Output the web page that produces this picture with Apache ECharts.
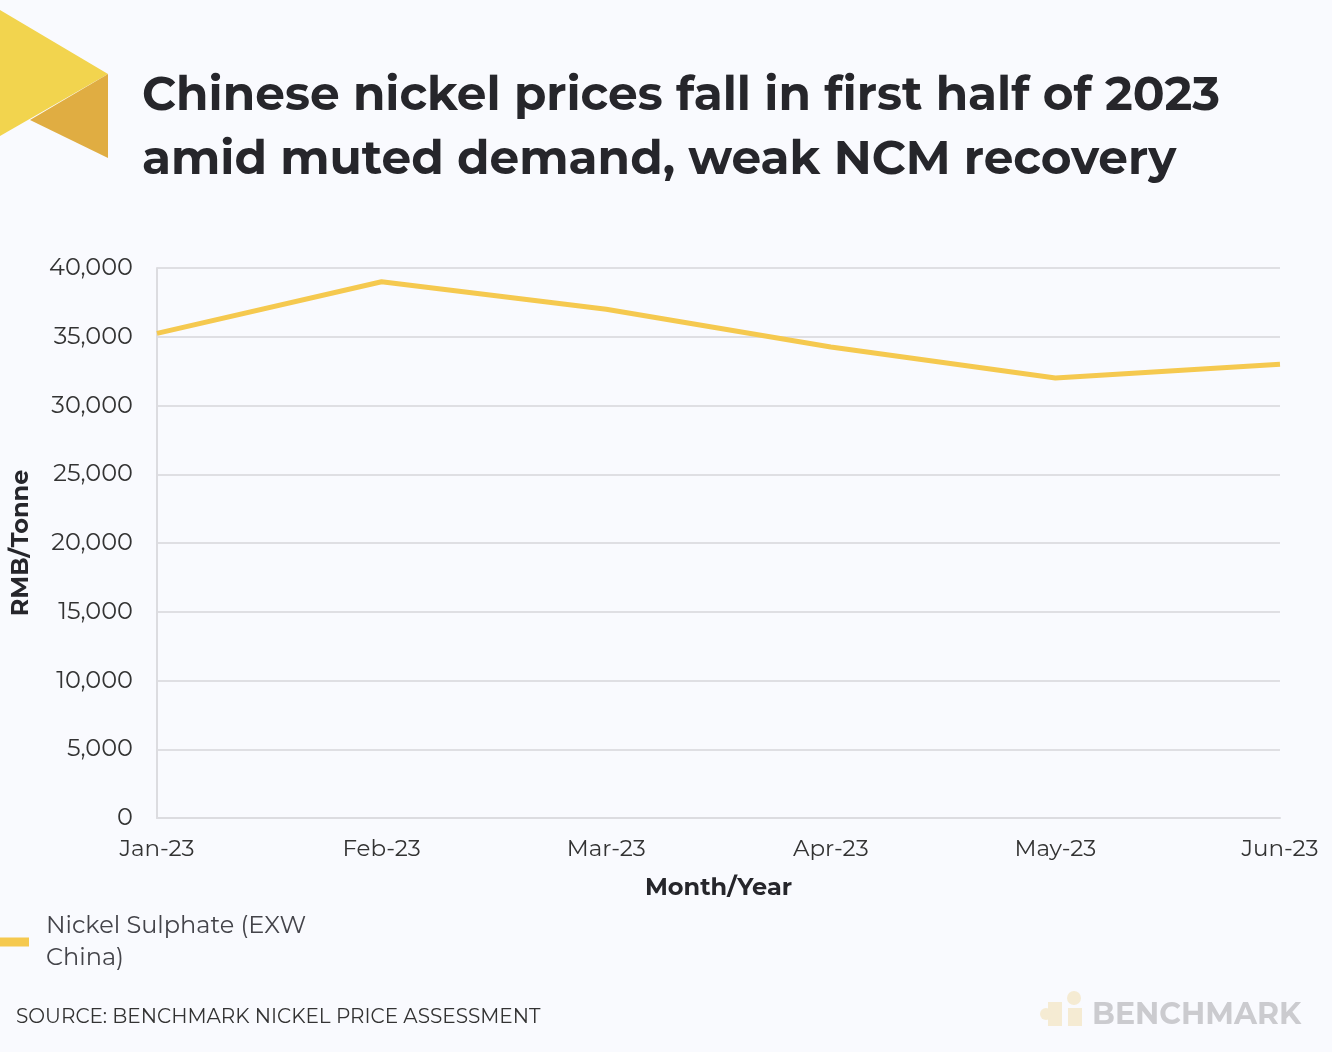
<!DOCTYPE html>
<html><head><meta charset="utf-8">
<script src="https://cdn.jsdelivr.net/npm/echarts@6/dist/echarts.min.js"></script>
<style>html,body{margin:0;padding:0;background:#F9FAFE;}#c{width:1332px;height:1052px;}</style>
</head><body><div id="c"></div>
<script>
const categories = ['Jan-23','Feb-23','Mar-23','Apr-23','May-23','Jun-23'];
const nickelSulphate = [35250, 39000, 37000, 34250, 32000, 33000];
const seriesName = 'Nickel Sulphate (EXW China)';
const yTicks = {min: 0, max: 40000, interval: 5000};

const chart = echarts.init(document.getElementById('c'), null, {renderer: 'canvas'});
const font = 'Montserrat, "Open Sans", Inter, sans-serif';
chart.setOption({
  backgroundColor: '#F9FAFE',
  animation: false,
  title: {
    text: 'Chinese nickel prices fall in first half of 2023\namid muted demand, weak NCM recovery',
    left: 137, top: 59, padding: 5,
    textStyle: {fontFamily: font, fontWeight: 'bold', fontSize: 47, lineHeight: 64, color: '#26262b'}
  },
  graphic: [
    {type: 'polygon', shape: {points: [[0,10],[108,74],[0,136]]}, style: {fill: '#F2D44E'}},
    {type: 'polygon', shape: {points: [[108,74],[108,158],[30,120]]}, style: {fill: '#E0AD42'}},
    {type: 'text', left: 16, top: 1007, style: {text: 'SOURCE: BENCHMARK NICKEL PRICE ASSESSMENT', font: '20px ' + font, fill: '#333'}},
    {type: 'text', left: 1092, top: 1000, style: {text: 'BENCHMARK', font: 'bold 30px ' + font, fill: '#cbcbcf'}},
    {type: 'circle', shape: {cx: 1074, cy: 998, r: 7}, style: {fill: '#F5EBD3'}},
    {type: 'polygon', shape: {points: [[1048,1002],[1062,1002],[1062,1026],[1048,1026]]}, style: {fill: '#F5EBD3'}},
    {type: 'polygon', shape: {points: [[1068,1008],[1082,1008],[1082,1026],[1068,1026]]}, style: {fill: '#F5EBD3'}},
    {type: 'circle', shape: {cx: 1046, cy: 1014, r: 6}, style: {fill: '#F5EBD3'}}
  ],
  legend: {
    left: 0, top: 910, orient: 'vertical', padding: 0,
    icon: 'rect', itemWidth: 29, itemHeight: 9, itemGap: 10,
    formatter: () => 'Nickel Sulphate (EXW\nChina)',
    textStyle: {fontFamily: font, fontSize: 24, lineHeight: 32, color: '#44444a', padding: [0,0,0,12]},
    data: [seriesName]
  },
  grid: {left: 157, right: 52, top: 268, bottom: 234, containLabel: false},
  xAxis: {
    type: 'category', data: categories, boundaryGap: false,
    name: 'Month/Year', nameLocation: 'middle', nameGap: 58,
    nameTextStyle: {fontFamily: font, fontWeight: 'bold', fontSize: 24, color: '#26262b'},
    axisLine: {lineStyle: {color: '#dcdce0', width: 2}},
    axisTick: {show: false},
    axisLabel: {fontFamily: font, fontSize: 23, color: '#333', margin: 20}
  },
  yAxis: {
    type: 'value', min: yTicks.min, max: yTicks.max, interval: yTicks.interval,
    name: 'RMB/Tonne', nameLocation: 'middle', nameGap: 124, nameRotate: 90,
    nameTextStyle: {fontFamily: font, fontWeight: 'bold', fontSize: 24, color: '#26262b'},
    axisLine: {show: true, lineStyle: {color: '#dcdce0', width: 2}},
    axisTick: {show: false},
    splitLine: {lineStyle: {color: '#dfdfe3', width: 2}},
    axisLabel: {fontFamily: font, fontSize: 24, color: '#333', margin: 24,
      formatter: v => v.toLocaleString('en-US')}
  },
  series: [{
    name: seriesName, type: 'line', data: nickelSulphate,
    symbol: 'none', smooth: false,
    lineStyle: {color: '#F5C94F', width: 5},
    itemStyle: {color: '#F5C94F'}
  }]
});
</script></body></html>
